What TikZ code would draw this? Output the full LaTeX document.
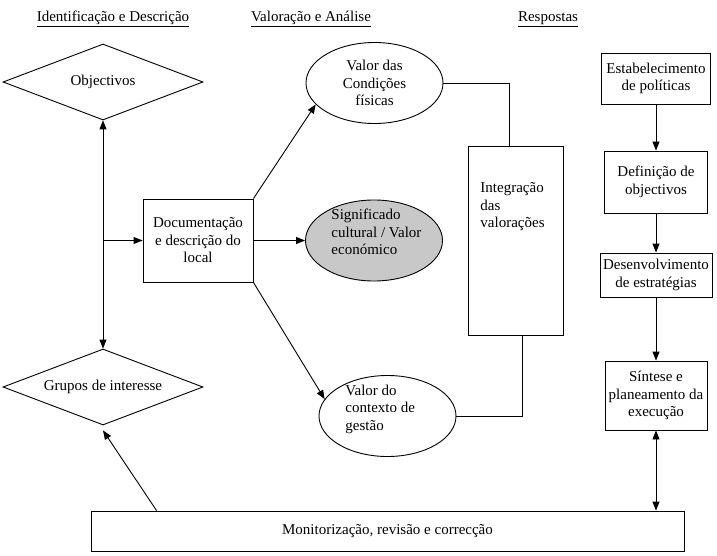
\documentclass[tikz,border=0pt]{standalone}
\usepackage{fontspec}
\setmainfont{Liberation Serif}
\usetikzlibrary{shapes.geometric,arrows.meta}
\definecolor{signgray}{RGB}{200,200,200}
\begin{document}
\begin{tikzpicture}[x=1pt,y=-1pt,line width=0.9pt,
  font=\fontsize{15}{17.5}\selectfont,
  arr/.style={-{Triangle[length=9pt,width=7pt]}},
  darr/.style={{Triangle[length=9pt,width=7pt]}-{Triangle[length=9pt,width=7pt]}},
  head/.style={anchor=base,inner sep=0pt},
  rhomb/.style={draw,diamond,aspect=2.6,inner sep=0pt,minimum width=200pt,minimum height=76pt},
  valor/.style={draw,ellipse,inner sep=0pt,minimum width=137pt,minimum height=81pt,align=center},
  caixa/.style={draw,align=center,inner sep=0pt},
  txt/.style={anchor=west,align=left,inner sep=0pt}]
\useasboundingbox (0,0) rectangle (717,556);
\node[head] (h1) at (113,22) {\underline{Identificação e Descrição}};
\node[head] (h2) at (311,22) {\underline{Valoração e Análise}};
\node[head] (h3) at (548,22) {\underline{Respostas}};
\node[rhomb] (obj) at (103,82) {Objectivos};
\node[rhomb] (grp) at (103,387) {Grupos de interesse};
\node[caixa,minimum width=110pt,minimum height=83pt] (doc) at (198,240.5) {Documentação\\e descrição do\\local};
\node[valor] (fis) at (374.5,83) {Valor das\\Condições\\físicas};
\node[valor,fill=signgray] (sig) at (374,240.5) {};
\node[txt] (sigtxt) at (331,232) {Significado\\cultural / Valor\\económico};
\node[valor] (ctx) at (387.5,416) {};
\node[txt] (ctxtxt) at (345,409) {Valor do\\contexto de\\gestão};
\node[caixa,minimum width=95pt,minimum height=189pt] (int) at (515.5,240.5) {};
\node[txt] (inttxt) at (480,207) {Integração\\das\\valorações};
\node[caixa,minimum width=109pt,minimum height=51pt] (pol) at (656,78.5) {Estabelecimento\\de políticas};
\node[caixa,minimum width=103pt,minimum height=62pt] (def) at (656,182) {Definição de\\objectivos};
\node[caixa,minimum width=112pt,minimum height=44pt] (est) at (656,275) {Desenvolvimento\\de estratégias};
\node[caixa,minimum width=102pt,minimum height=69pt] (sin) at (656,395.5) {Síntese e\\planeamento da\\execução};
\node[caixa,minimum width=593pt,minimum height=40pt] (mon) at (387.5,531) {Monitorização, revisão e correcção};
\draw[darr] (obj.south) -- (grp.north);
\draw[arr] (doc.west -| obj.south) -- (doc.west);
\draw[arr] (doc.north east) -- (fis.200);
\draw[arr] (doc.east) -- (sig.west);
\draw[arr] (doc.south east) -- (ctx.165);
\draw ([xshift=-6.5pt]int.north) |- (fis.east);
\draw ([xshift=6.5pt]int.south) |- (ctx.east);
\draw[arr] (pol.south) -- (def.north);
\draw[arr] (def.south) -- (est.north);
\draw[arr] (est.south) -- (sin.north);
\draw[darr] (sin.south) -- (sin.south |- mon.north);
\draw[arr] ([xshift=66pt]mon.north west) -- ([yshift=-5pt]grp.south);
\end{tikzpicture}
\end{document}
